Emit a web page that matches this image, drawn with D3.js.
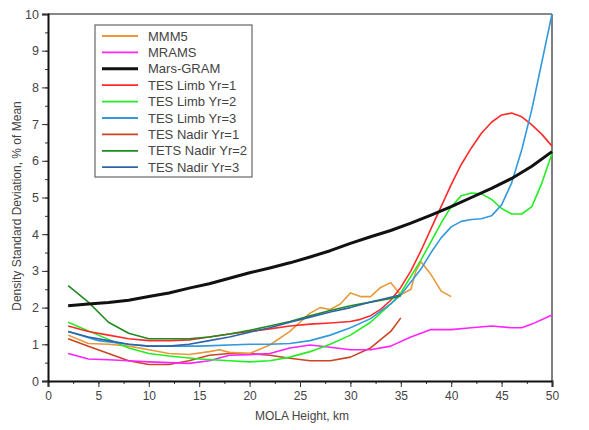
<!DOCTYPE html>
<html><head><meta charset="utf-8">
<script src="https://cdn.jsdelivr.net/npm/d3@7"></script>
<style>body{margin:0;background:#fff}svg{font-family:"Liberation Sans",Arial,sans-serif}</style>
</head><body><svg id="c" width="589" height="430"></svg>
<script>
const xTicks = [0,5,10,15,20,25,30,35,40,45,50];
const yTicks = [0,1,2,3,4,5,6,7,8,9,10];

const mmm5X = [2,4,6,8,10,12,14,16,17,18,20,22,24,25,26,27,28,29,30,31,32,33,34,35,36,36.5,37,38,39,40];
const mmm5Y = [1.25,1.02,1.0,0.95,0.85,0.75,0.72,0.8,0.85,0.78,0.75,0.98,1.35,1.6,1.85,2.0,1.95,2.1,2.4,2.3,2.3,2.55,2.68,2.35,2.5,3.0,3.25,2.9,2.45,2.3];

const mramsX = [2,4,6,8,10,12,14,16,18,20,22,24,26,28,30,32,34,36,38,40,42,44,46,47,48,50];
const mramsY = [0.75,0.6,0.58,0.55,0.52,0.5,0.48,0.55,0.7,0.72,0.75,0.9,0.98,0.92,0.85,0.85,0.95,1.2,1.4,1.4,1.45,1.5,1.45,1.45,1.55,1.8];

const gramX = [2,4,6,8,10,12,14,16,18,20,22,24,26,28,30,32,34,36,38,40,42,44,46,48,50];
const gramY = [2.05,2.1,2.14,2.2,2.3,2.4,2.53,2.65,2.8,2.95,3.08,3.22,3.38,3.55,3.75,3.93,4.1,4.3,4.52,4.75,5.0,5.25,5.52,5.85,6.25];

const limb1X = [2,4,6,8,10,12,14,16,18,20,22,24,26,28,30,31,32,33,34,35,36,37,38,39,40,41,42,43,44,45,46,47,48,49,50];
const limb1Y = [1.5,1.35,1.25,1.15,1.1,1.1,1.12,1.2,1.28,1.35,1.42,1.5,1.55,1.58,1.62,1.68,1.78,1.95,2.2,2.55,3.0,3.55,4.15,4.75,5.35,5.9,6.35,6.75,7.05,7.25,7.3,7.2,6.98,6.72,6.4];

const limb2X = [2,5,8,10,12,15,18,20,22,24,26,28,30,32,34,35,36,37,38,39,40,41,42,43,44,45,46,47,48,49,50];
const limb2Y = [1.6,1.25,0.9,0.75,0.68,0.6,0.55,0.52,0.55,0.65,0.8,1.0,1.25,1.6,2.1,2.4,2.85,3.3,3.8,4.3,4.75,5.05,5.12,5.1,4.95,4.7,4.55,4.55,4.75,5.4,6.2];

const limb3X = [2,5,8,10,15,20,22,24,26,28,30,32,34,35,36,37,38,39,40,41,42,43,44,45,46,47,48,49,50];
const limb3Y = [1.35,1.1,1.0,0.95,0.95,1.0,1.0,1.02,1.1,1.25,1.45,1.7,2.1,2.35,2.7,3.05,3.5,3.9,4.2,4.35,4.4,4.42,4.5,4.8,5.4,6.3,7.4,8.7,10.0];

const nadir1X = [2,4,6,8,10,12,14,16,18,20,22,24,26,28,30,32,34,35];
const nadir1Y = [1.15,0.95,0.75,0.55,0.45,0.45,0.55,0.7,0.75,0.75,0.7,0.62,0.55,0.55,0.65,0.9,1.35,1.72];

const nadir2X = [2,4,6,8,10,12,14,16,18,20,22,24,26,28,30,32,34,35];
const nadir2Y = [2.6,2.15,1.6,1.3,1.15,1.15,1.15,1.2,1.28,1.38,1.5,1.62,1.78,1.92,2.05,2.15,2.25,2.32];

const nadir3X = [2,4,6,8,10,12,14,16,18,20,22,24,26,28,30,32,34,35];
const nadir3Y = [1.35,1.2,1.1,1.0,0.95,0.95,1.0,1.1,1.2,1.33,1.45,1.6,1.74,1.88,2.0,2.15,2.28,2.35];

const seriesNames = ["MMM5","MRAMS","Mars-GRAM","TES Limb Yr=1","TES Limb Yr=2","TES Limb Yr=3","TES Nadir Yr=1","TETS Nadir Yr=2","TES Nadir Yr=3"];
const seriesColors = ["#e69a3a","#ff22ff","#111111","#ff2a2a","#22ee22","#3399dd","#cc4422","#228b22","#2f64a8"];
const seriesWidths = [1.6,1.6,3,1.6,1.6,1.6,1.6,1.6,1.6];
const seriesX = [mmm5X,mramsX,gramX,limb1X,limb2X,limb3X,nadir1X,nadir2X,nadir3X];
const seriesY = [mmm5Y,mramsY,gramY,limb1Y,limb2Y,limb3Y,nadir1Y,nadir2Y,nadir3Y];

const svg = d3.select("#c");
const L = 48, R = 552, T = 14, B = 381;
const x = d3.scaleLinear().domain([0,50]).range([L,R]);
const y = d3.scaleLinear().domain([0,10]).range([B,T]);

svg.append("line").attr("x1",L).attr("x2",R).attr("y1",T).attr("y2",T).attr("stroke","#888").attr("stroke-width",2);
svg.append("line").attr("x1",R).attr("x2",R).attr("y1",T).attr("y2",B).attr("stroke","#555").attr("stroke-width",1.5);

svg.append("defs").append("clipPath").attr("id","pc").append("rect")
  .attr("x",L).attr("y",T-1).attr("width",R-L+1).attr("height",B-T+1);
const g = svg.append("g").attr("clip-path","url(#pc)");
const line = d3.line().x(d=>x(d[0])).y(d=>y(d[1]));
const order = [6,1,0,4,3,5,7,8,2];
order.forEach(i=>{
  const pts = seriesX[i].map((v,k)=>[v,seriesY[i][k]]);
  g.append("path").attr("d",line(pts)).attr("fill","none")
    .attr("stroke",seriesColors[i]).attr("stroke-width",seriesWidths[i]).attr("stroke-linejoin","round");
});

const xMinor = d3.range(0,50.01,2.5);
const yMinor = d3.range(0,10.01,0.5);
const xa = svg.append("g").attr("transform",`translate(0,${B})`)
  .call(d3.axisBottom(x).tickValues(xMinor).tickSize(3).tickFormat(""));
xa.select(".domain").remove();
xa.selectAll("line").attr("stroke","#333");
const xb = svg.append("g").attr("transform",`translate(0,${B})`)
  .call(d3.axisBottom(x).tickValues(xTicks).tickSize(6).tickPadding(4).tickFormat(d3.format("d")));
xb.select(".domain").attr("stroke","#111").attr("stroke-width",2);
xb.selectAll("line").attr("stroke","#333");
xb.selectAll("text").attr("font-size",12).attr("fill","#444").attr("font-family","Liberation Sans, Arial, sans-serif");

const ya = svg.append("g").attr("transform",`translate(${L},0)`)
  .call(d3.axisLeft(y).tickValues(yMinor).tickSize(3).tickFormat(""));
ya.select(".domain").remove();
ya.selectAll("line").attr("stroke","#333");
const yb = svg.append("g").attr("transform",`translate(${L},0)`)
  .call(d3.axisLeft(y).tickValues(yTicks).tickSize(6).tickPadding(3).tickFormat(d3.format("d")));
yb.select(".domain").attr("stroke","#111").attr("stroke-width",2);
yb.selectAll("line").attr("stroke","#333");
yb.selectAll("text").attr("font-size",12.5).attr("fill","#444").attr("font-family","Liberation Sans, Arial, sans-serif");

svg.append("text").attr("x",(L+R)/2+2).attr("y",420).attr("text-anchor","middle")
  .attr("font-size",12).attr("fill","#444").text("MOLA Height, km");
svg.append("text").attr("transform",`translate(21,206) rotate(-90)`).attr("text-anchor","middle")
  .attr("font-size",12).attr("fill","#444").text("Density Standard Deviation, % of Mean");

const lg = svg.append("g");
lg.append("rect").attr("x",95).attr("y",25).attr("width",157).attr("height",152)
  .attr("fill","#fff").attr("stroke","#666").attr("stroke-width",1.2);
seriesNames.forEach((n,i)=>{
  const yy = 36 + i*16.4;
  lg.append("line").attr("x1",102).attr("x2",138).attr("y1",yy).attr("y2",yy)
    .attr("stroke",seriesColors[i]).attr("stroke-width",i===2?3:1.8);
  lg.append("text").attr("x",148).attr("y",yy+4.5).attr("font-size",13).attr("fill","#444").text(n);
});
</script></body></html>
